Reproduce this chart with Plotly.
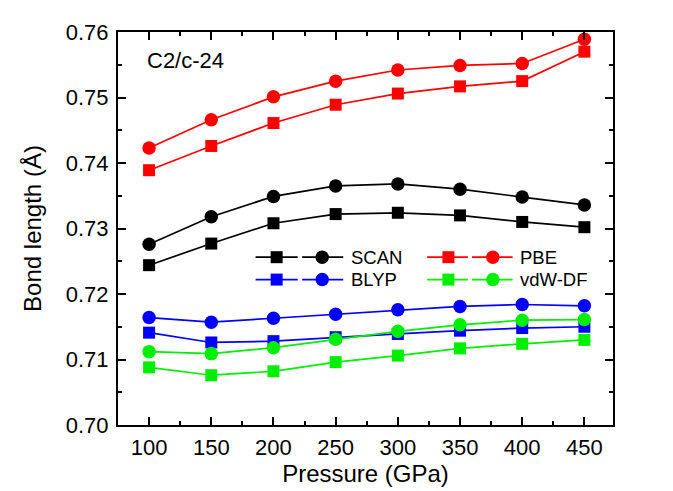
import plotly.graph_objects as go

pressure = [100, 150, 200, 250, 300, 350, 400, 450]

scan_sq = [0.7244, 0.7277, 0.7308, 0.7322, 0.7324, 0.7320, 0.7310, 0.7302]
scan_ci = [0.7276, 0.7318, 0.7349, 0.7365, 0.7368, 0.7360, 0.7348, 0.7336]
pbe_sq = [0.7389, 0.7426, 0.7461, 0.7489, 0.7506, 0.7517, 0.7525, 0.7570]
pbe_ci = [0.7423, 0.7466, 0.7501, 0.7525, 0.7542, 0.7549, 0.7552, 0.7589]
blyp_sq = [0.7141, 0.7126, 0.7128, 0.7134, 0.7139, 0.7144, 0.7148, 0.7150]
blyp_ci = [0.7164, 0.7157, 0.7163, 0.7169, 0.7176, 0.7181, 0.7184, 0.7182]
vdw_sq = [0.7088, 0.7076, 0.7082, 0.7096, 0.7106, 0.7117, 0.7124, 0.7130]
vdw_ci = [0.7112, 0.7109, 0.7118, 0.7131, 0.7143, 0.7153, 0.7160, 0.7161]

series_names = ["SCAN", "PBE", "BLYP", "vdW-DF"]
colors = ["#000000", "#ff0000", "#0000ff", "#00ee00"]
squares = [scan_sq, pbe_sq, blyp_sq, vdw_sq]
circles = [scan_ci, pbe_ci, blyp_ci, vdw_ci]

FONT = "Liberation Sans, Arial, sans-serif"
LW = 1.7
SQ = 12
CI = 13.5

fig = go.Figure()
for name, col, sq, ci in zip(series_names, colors, squares, circles):
    fig.add_trace(go.Scatter(x=pressure, y=sq, mode="lines+markers", name=name,
                             line=dict(color=col, width=LW),
                             marker=dict(symbol="square", size=SQ, color=col),
                             showlegend=False))
    fig.add_trace(go.Scatter(x=pressure, y=ci, mode="lines+markers", name=name,
                             line=dict(color=col, width=LW),
                             marker=dict(symbol="circle", size=CI, color=col),
                             showlegend=False))

# custom legend drawn on an overlay axis in plot-area fractions
leg_cols = [(0.278, 0.363, 0.3205, 0.372, 0.455, 0.4125, 0.466),
            (0.6245, 0.7068, 0.6675, 0.7149, 0.7972, 0.7573, 0.8079)]
leg_rows = [0.427, 0.370]
layout_pos = [(0, 0), (1, 0), (0, 1), (1, 1)]
for (ci_, ri_), name, col in zip(layout_pos, series_names, colors):
    a0, a1, am, b0, b1, bm, tx = leg_cols[ci_]
    yy = leg_rows[ri_]
    fig.add_trace(go.Scatter(x=[a0, a1], y=[yy, yy], mode="lines", xaxis="x2", yaxis="y2",
                             line=dict(color=col, width=LW), showlegend=False, hoverinfo="skip"))
    fig.add_trace(go.Scatter(x=[b0, b1], y=[yy, yy], mode="lines", xaxis="x2", yaxis="y2",
                             line=dict(color=col, width=LW), showlegend=False, hoverinfo="skip"))
    fig.add_trace(go.Scatter(x=[am], y=[yy], mode="markers", xaxis="x2", yaxis="y2",
                             marker=dict(symbol="square", size=SQ, color=col), showlegend=False, hoverinfo="skip"))
    fig.add_trace(go.Scatter(x=[bm], y=[yy], mode="markers", xaxis="x2", yaxis="y2",
                             marker=dict(symbol="circle", size=CI, color=col), showlegend=False, hoverinfo="skip"))
    fig.add_annotation(x=tx, y=yy, xref="x2", yref="y2", text=name, showarrow=False,
                       xanchor="left", yanchor="middle", font=dict(family=FONT, size=18.5, color="black"))

fig.add_annotation(x=0.055, y=0.928, xref="x domain", yref="y domain", text="C2/c-24",
                   showarrow=False, xanchor="left", yanchor="middle",
                   font=dict(family=FONT, size=22, color="black"))

axis_common = dict(showline=True, linecolor="black", linewidth=2, mirror="ticks",
                   ticks="inside", tickcolor="black", tickwidth=1.5, ticklen=8,
                   showgrid=False, zeroline=False,
                   tickfont=dict(family=FONT, size=22, color="black"))

fig.update_layout(
    width=673, height=491,
    margin=dict(l=110, r=68, t=17, b=74),
    plot_bgcolor="white", paper_bgcolor="white",
    xaxis=dict(range=[75, 473], tickmode="array", tickvals=pressure,
               minor=dict(ticks="inside", dtick=25, tick0=75, ticklen=4, tickcolor="black", tickwidth=1.5),
               title=dict(text="Pressure (GPa)", font=dict(family=FONT, size=24, color="black"), standoff=2),
               ticklabelstandoff=2,
               **axis_common),
    yaxis=dict(range=[0.70, 0.76], dtick=0.01, tickformat=".2f",
               minor=dict(ticks="inside", dtick=0.005, ticklen=4, tickcolor="black", tickwidth=1.5),
               title=dict(text="Bond length (Å)", font=dict(family=FONT, size=24, color="black"), standoff=17),
               ticklabelstandoff=3,
               **axis_common),
    xaxis2=dict(overlaying="x", range=[0, 1], visible=False, fixedrange=True),
    yaxis2=dict(overlaying="y", range=[0, 1], visible=False, fixedrange=True),
)

fig.write_html("out.html")
